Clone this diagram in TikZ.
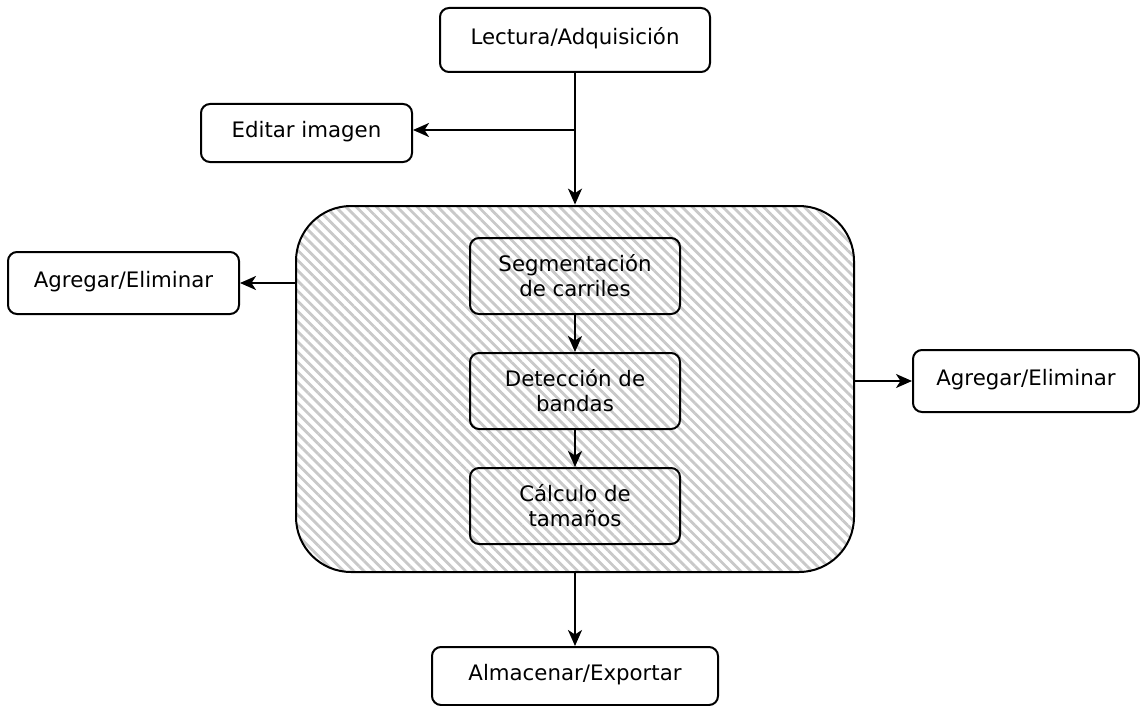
\documentclass[tikz,border=0pt]{standalone}
\usepackage{fontspec}
\setmainfont{DejaVu Sans}
\usetikzlibrary{arrows.meta,patterns.meta}
\begin{document}
\begin{tikzpicture}[x=1pt,y=-1pt,
  box/.style={draw, line width=2pt, rounded corners=9pt, inner sep=0pt,
    align=center, font=\fontsize{21.3}{25}\selectfont},
  onebox/.style={box, text height=15pt, text depth=6pt},
  twobox/.style={box, text height=40pt, text depth=-5pt,
    minimum width=210pt, minimum height=76pt},
  hatch/.style={pattern={Lines[angle=-45,distance=7.2pt,line width=2.8pt]},
    pattern color=gray!42},
  conn/.style={line width=2pt, -{Stealth[length=16pt,width=14pt,inset=4.5pt]}},
]
\useasboundingbox (0,0) rectangle (1140,706);

% processing block
\node[draw, line width=2pt, rounded corners=55pt, hatch,
  minimum width=558pt, minimum height=366pt] (core) at (575,389) {};

\node[twobox] (seg)  at (575,276) {Segmentación\\de carriles};
\node[twobox] (det)  at (575,391) {Detección de\\bandas};
\node[twobox] (calc) at (575,506) {Cálculo de\\tamaños};

% outer steps
\node[onebox, minimum width=270pt, minimum height=64pt] (lect) at (575,40) {Lectura/Adquisición};
\node[onebox, minimum width=211pt, minimum height=58pt] (edit) at (306.5,133) {Editar imagen};
\node[onebox, minimum width=231pt, minimum height=62pt] (agl) at (123.5,283) {Agregar/Eliminar};
\node[onebox, minimum width=226pt, minimum height=62pt] (agr) at (1026,381) {Agregar/Eliminar};
\node[onebox, minimum width=286pt, minimum height=58pt] (alm) at (575,676) {Almacenar/Exportar};

% connectors
\coordinate (branch) at (575,130);
\draw[conn] (lect.south) -- (core.north);
\draw[conn] (branch) -- (branch -| edit.east);
\draw[conn] (seg) -- (det);
\draw[conn] (det) -- (calc);
\draw[conn] (agl.east -| core.west) -- (agl.east);
\draw[conn] (agr.west -| core.east) -- (agr.west);
\draw[conn] (core.south) -- (alm.north);
\end{tikzpicture}
\end{document}
